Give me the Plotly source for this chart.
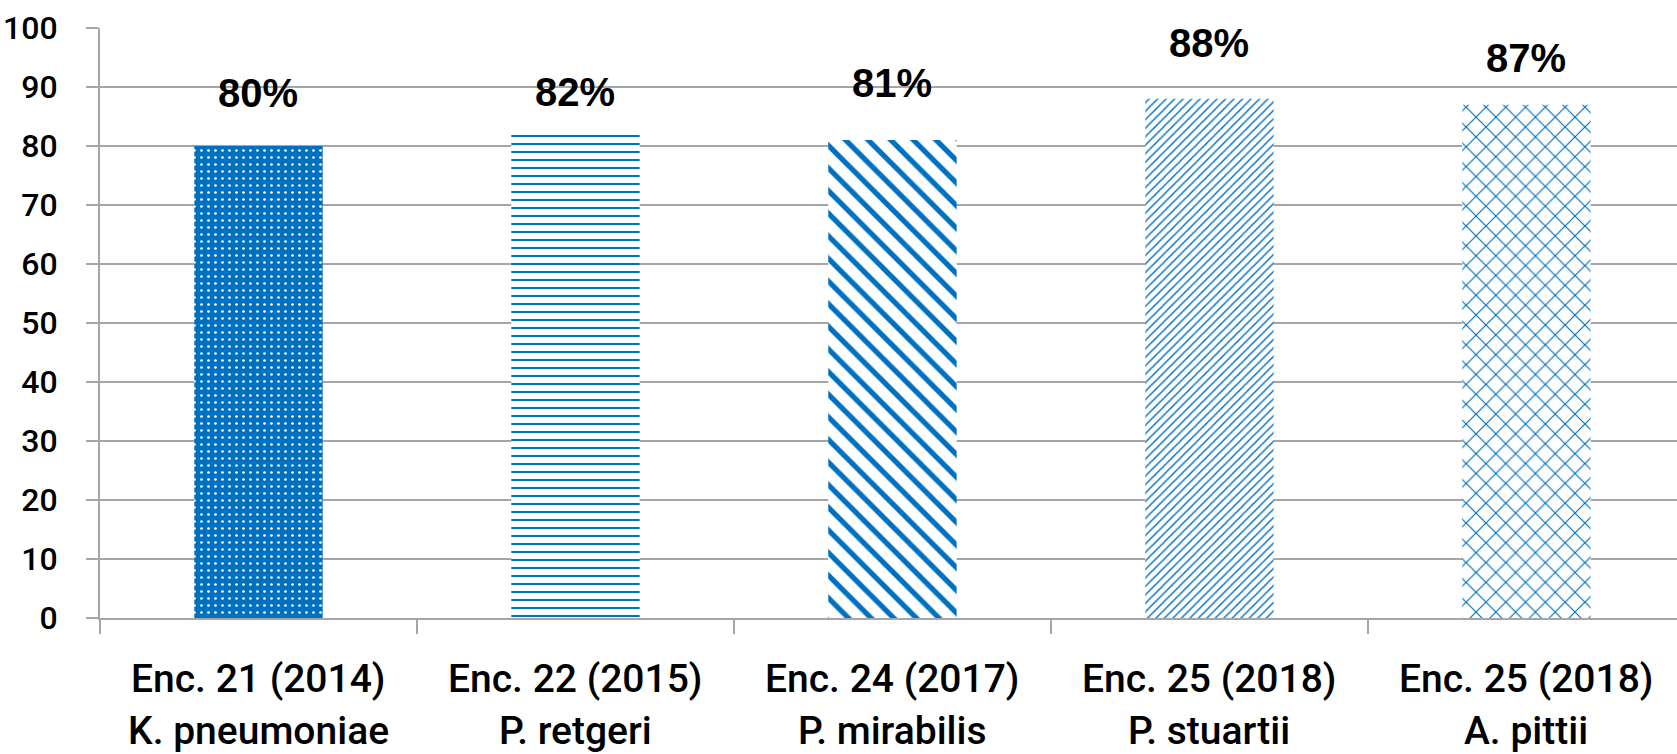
import plotly.graph_objects as go

# Two-line category labels and percentage values
enc_labels = ["Enc. 21 (2014)", "Enc. 22 (2015)", "Enc. 24 (2017)", "Enc. 25 (2018)", "Enc. 25 (2018)"]
species = ["K. pneumoniae", "P. retgeri", "P. mirabilis", "P. stuartii", "A. pittii"]
values = [80, 82, 81, 88, 87]
value_labels = ["80%", "82%", "81%", "88%", "87%"]

categories = [f"{e} {s}" for e, s in zip(enc_labels, species)]

# Styling for each bar's fill pattern
BLUE = "#0070C0"
pattern_shapes = [".", "-", "\\", "/", "x"]
pattern_sizes = [7, 8, 16, 6, 14]
pattern_solidity = [0.12, 0.25, 0.33, 0.24, 0.16]
pattern_bg = [BLUE, "white", "white", "white", "white"]
pattern_fg = ["white", BLUE, BLUE, BLUE, BLUE]
label_shift_px = [53, 42, 57, 56, 47]

GRID = "#A6A6A6"
TICK_FONT = "Roboto, sans-serif"

fig = go.Figure()
fig.add_trace(go.Bar(
    x=categories,
    y=values,
    width=0.405,
    marker=dict(
        color=BLUE,
        line=dict(width=0),
        pattern=dict(
            shape=pattern_shapes,
            size=pattern_sizes,
            solidity=pattern_solidity,
            bgcolor=pattern_bg,
            fgcolor=pattern_fg,
            fillmode="replace",
        ),
    ),
    hoverinfo="skip",
))

# Value labels above the bars
for cat, val, txt, dy in zip(categories, values, value_labels, label_shift_px):
    fig.add_annotation(
        x=cat, y=val, text=txt, showarrow=False,
        yanchor="middle", yshift=dy,
        font=dict(family="Liberation Sans, Arial, sans-serif", size=40, color="black", weight="bold"),
    )

# Category labels below the axis, two lines each
for cat, e, s in zip(categories, enc_labels, species):
    for text, ypos in ((e, -0.1034), (s, -0.1915)):
        fig.add_annotation(
            x=cat, xref="x", y=ypos, yref="paper", text=text, showarrow=False,
            yanchor="middle", xanchor="center", borderpad=0,
            font=dict(family=TICK_FONT, size=39, color="black", weight=500),
        )

fig.update_layout(
    width=1677, height=754,
    margin=dict(l=100, r=0, t=28, b=136),
    paper_bgcolor="white", plot_bgcolor="white",
    showlegend=False,
)
fig.update_xaxes(
    range=[-0.5, 4.475],
    showline=True, linecolor=GRID, linewidth=2,
    ticks="outside", tickson="boundaries", ticklen=14, tickcolor=GRID, tickwidth=2,
    showgrid=False, showticklabels=False,
)
fig.update_yaxes(
    range=[0, 100], dtick=10,
    showline=True, linecolor=GRID, linewidth=2,
    ticks="outside", ticklen=12, tickcolor=GRID, tickwidth=2,
    showgrid=True, gridcolor=GRID, gridwidth=2,
    zeroline=False,
    tickfont=dict(family=TICK_FONT, size=32, color="black", weight=500),
    ticklabelstandoff=22,
)

fig.write_html("out.html")
